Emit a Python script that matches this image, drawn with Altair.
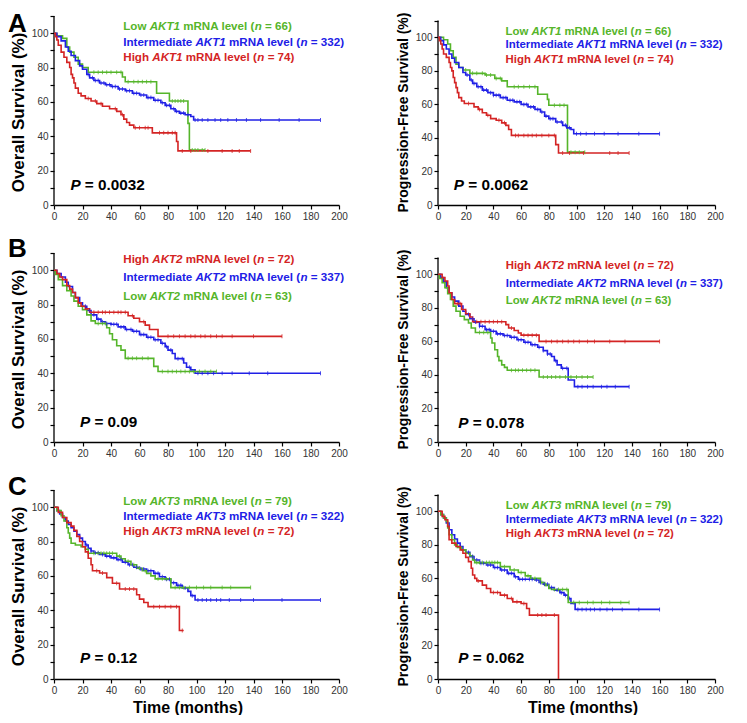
import altair as alt
import pandas as pd

FONT = "Liberation Sans"
GREEN = "#55b52a"
BLUE = "#2020e6"
RED = "#d42424"

# ---------------- data (time in months, survival in %) ----------------
# Panel A - AKT1, overall survival
A_OS_LOW = [(0,100),(2,98.5),(6,97),(9,92),(11,89),(14,86),(17,82),(20,80),(24,77.3),(48,74.5),(50,71.7),(72,65),(81,60.5),(94,47.5),(95,32),(106,32)]
A_OS_LOW_C = [28,31,34,37,40,44,47,52,56,59,62,65,68,83,85,87,89,91,97,99,101,104,106]
A_OS_INT = [(0,100),(2,98),(5,95.5),(8,92),(10,89.5),(12,87),(15,84),(18,81),(20,79),(23,76),(25,74),(28,72.5),(32,71),(36,70),(40,69),(45,67.5),(50,66.5),(55,65),(60,64),(65,62.5),(70,61),(75,59.5),(78,58),(82,56),(85,54.5),(88,53.5),(92,52.5),(96,51.5),(98,49.5),(187,49.5)]
A_OS_INT_C = [24,27,29,31,33,35,37,39,41,43,46,48,51,53,56,58,61,63,66,68,71,73,76,79,81,84,86,89,91,94,99,101,104,108,113,117,122,128,135,145,158,172,187]
A_OS_HIGH = [(0,100),(1,98),(2,96),(3,93),(5,89),(7,86),(9,83),(11,80),(12,76),(13,74),(14,71),(15,68),(17,65),(19,63.5),(22,62),(26,60.5),(30,59),(34,57.5),(39,56),(44,54.5),(47,52.5),(49,50),(51,48),(53,46.5),(56,45),(69,42),(86,37),(87,31.5),(138,31.5)]
A_OS_HIGH_C = [24,29,33,43,48,57,60,64,66,74,77,80,83,85,90,96,108,118,125,130,138]

# Panel A - AKT1, progression-free survival
A_PFS_LOW = [(0,100),(4,98.5),(7,96),(9,92),(11,88),(13,84),(15,82),(18,80.5),(23,78.5),(34,77.5),(41,75.5),(46,74),(50,70.5),(72,66),(79,63),(80,59.5),(93.5,31.5),(106,31.5)]
A_PFS_LOW_C = [20,25,28,32,35,38,42,45,55,58,62,66,70,84,88,91,96,99,102,106]
A_PFS_INT = [(0,100),(2,98),(4,95.5),(6,93),(8,90),(10,87.5),(12,85),(15,82),(18,79),(20,77.5),(23,74.5),(25,72.5),(28,70.5),(32,68.5),(36,67),(40,65.5),(45,64),(50,62.5),(55,61.5),(60,60),(65,58.5),(70,57),(74,55.5),(77,53),(80,51.5),(85,49.5),(90,47.5),(93,46),(96,45),(98,42.5),(160,42.5)]
A_PFS_INT_C = [21,24,26,29,31,33,35,38,40,42,44,47,49,52,54,57,59,62,64,67,69,72,75,78,81,83,86,89,92,95,100,103,107,113,120,130,145,160]
A_PFS_HIGH = [(0,100),(1,98),(2,96),(3,93),(4,90),(6,88),(8,85),(9,82),(10,80),(11,76),(12,73),(13,70),(14,67),(15,64),(17,62),(19,60.5),(26,58.5),(29,57),(32,55),(35,53.5),(38,51.5),(42,50.5),(46,49),(49,47.5),(51,45),(53,41.5),(85,36),(87,31),(138,31)]
A_PFS_HIGH_C = [22,30,36,44,48,56,58,62,65,68,71,75,80,84,90,95,105,124,130,138]

# Panel B - AKT2, overall survival
B_OS_HIGH = [(0,100),(2,98),(4,96),(6,94.5),(9,91),(11,89),(13,87),(15,84),(17,81),(19,79),(22,77.5),(25,75.5),(52,73.5),(56,72),(60,70),(64,68),(67,65.5),(73,61.5),(160,61.5)]
B_OS_HIGH_C = [28,31,34,36,39,42,45,47,50,55,63,80,84,88,92,96,99,103,106,110,114,118,125,140,160]
B_OS_INT = [(0,100),(2,98),(5,96),(8,93),(10,90.5),(13,87),(15,84),(18,81),(20,79),(23,76.5),(26,74),(30,71.5),(33,70),(36,69),(40,68.5),(45,67),(50,65.5),(55,64.5),(60,62.5),(65,61),(70,59.5),(75,57.5),(78,55.5),(80,53.5),(83,51.5),(85,48.5),(89,48.5),(91,46),(93,43.5),(96,42),(99,40),(187,40)]
B_OS_INT_C = [22,25,28,31,34,37,40,42,44,47,49,51,54,56,58,61,63,66,68,71,73,76,79,82,87,90,95,101,104,108,112,118,125,137,150,187]
B_OS_LOW = [(0,100),(1,97.5),(3,94.5),(6,91),(9,88),(12,85),(14,82),(17,79),(20,77),(23,74),(26,70.5),(29,69),(37,66.5),(39,63),(41,59.5),(44,56),(47,53.5),(50,48.7),(70,44),(73,41),(114,41)]
B_OS_LOW_C = [31,34,36,52,55,58,62,66,76,80,83,86,89,92,95,98,102,106,110,114]

# Panel B - AKT2, progression-free survival
B_PFS_HIGH = [(0,100),(3,98),(5,96),(7,93),(8,89),(10,85),(12,82.5),(17,79),(20,76.5),(23,74.5),(25,71.7),(49,70),(51,68),(55,66.5),(58,65),(60,63.7),(73,60),(160,60)]
B_PFS_HIGH_C = [14,16,28,31,34,37,40,43,46,53,62,65,68,71,78,82,86,90,94,98,102,108,113,124,135,160]
B_PFS_INT = [(0,100),(2,98),(4,95.5),(6,92),(8,89),(10,86.5),(12,84),(15,81),(18,78),(20,76),(23,73.5),(26,71.5),(30,69),(34,67),(38,66),(42,64.5),(47,63.5),(52,62.5),(57,61),(62,59.5),(67,58),(72,56.5),(76,54.5),(79,52.5),(82,51),(84,48.5),(86,46),(89,44),(94,37),(98.5,33),(138,33)]
B_PFS_INT_C = [22,25,27,30,32,35,37,40,43,45,48,50,53,55,58,60,63,65,68,70,73,76,79,81,85,90,93,101,104,108,112,118,122,128,138]
B_PFS_LOW = [(0,100),(1,97.5),(3,95),(5,92),(7,88.5),(9,85),(11,81),(13,78),(16,75),(19,73),(22,71),(24,68),(27,65.3),(38,62),(39,59),(41,55),(43,51),(44,48.5),(46,46),(48,44.5),(50,42.8),(73,38.8),(112,38.8)]
B_PFS_LOW_C = [30,33,36,53,56,58,61,64,67,70,76,79,82,85,88,92,96,100,104,108,112]

# Panel C - AKT3, overall survival
C_OS_LOW = [(0,100),(2,98),(5,95),(7,92),(9,88),(10,85),(11,82),(12,79),(15,78),(19,77),(22,75.5),(24,73.2),(44,71.5),(47,70),(50,68.5),(54,66.5),(58,64.5),(62,63),(65,61.5),(68,60),(71,58.3),(82,53.2),(138,53.2)]
C_OS_LOW_C = [28,31,33,35,37,39,41,46,52,56,60,64,73,76,79,85,88,91,95,100,105,110,118,124,138]
C_OS_INT = [(0,100),(2,98),(4,96),(6,94),(8,92),(10,90),(12,88),(14,86),(16,84),(18,82),(20,80),(22,78),(24,76),(26,74.5),(28,73.5),(32,72.5),(36,71.5),(40,70.5),(44,69.5),(48,68),(52,66.5),(56,65),(60,64),(65,63),(70,61.5),(74,59.5),(78,58),(82,56),(86,54.5),(90,53),(94,51),(96,48.5),(99,46),(187,46)]
C_OS_INT_C = [23,26,29,31,34,37,39,42,45,47,50,53,55,58,61,63,66,68,71,73,76,79,81,84,87,89,92,97,101,104,107,110,114,117,123,131,140,160,187]
C_OS_HIGH = [(0,100),(3,97),(6,94),(9,91),(12,89),(14,86.5),(16,83),(18,80),(20,77),(22,74),(24,70.3),(26,66.5),(27,63),(32,61.7),(37,59),(41,55.7),(46,52.4),(58,49),(60,46.5),(63,44.5),(66,42.1),(88,28.2),(91,28.2)]
C_OS_HIGH_C = [30,34,44,50,53,56,70,74,78,82,86,90]

# Panel C - AKT3, progression-free survival
C_PFS_LOW = [(0,100),(2,98),(4,96),(6,94),(7,90),(8,86),(10,83),(12,80),(14,78.5),(17,77),(20,75),(23,73.5),(25,71),(26.5,69.4),(45,67),(52,65),(58,63.5),(63,61.5),(67,60),(74,57.5),(77,56),(80,54),(82,53.4),(94,45.6),(138,45.6)]
C_PFS_LOW_C = [28,30,32,35,37,39,41,43,48,55,60,65,70,75,78,84,87,90,93,98,102,108,112,118,124,132,138]
C_PFS_INT = [(0,100),(2,98),(4,96),(6,93),(8,89),(10,86),(12,83.5),(14,81),(16,79),(18,77),(20,75.5),(23,73),(26,71),(30,69),(35,68),(40,66.5),(45,65),(50,63),(55,61),(58,59.5),(70,59),(73,57.5),(76,56.5),(80,54.5),(84,53),(88,51.5),(91,50),(94,48),(96,45),(99,41.5),(160,41.5)]
C_PFS_INT_C = [22,25,28,31,33,36,38,41,43,46,48,51,53,56,59,61,63,66,68,71,74,77,79,82,86,89,92,95,101,104,107,110,113,117,122,126,133,145,160]
C_PFS_HIGH = [(0,100),(3,97),(5,95),(7,91),(8,83),(10,81),(13,79),(16,77),(18,75),(20,72.5),(22,70),(24,66),(25,62),(26.5,60),(28,58.5),(32,56),(35,54),(38,51.6),(45,50),(50,48),(54,46),(60,45),(64,42),(66,38.1),(87,0)]
C_PFS_HIGH_C = [29,40,43,48,53,57,62,72,75,78,84]

# legend texts
GENES = ["AKT1", "AKT2", "AKT3"]
A_LEGEND = [("Low", 66, GREEN), ("Intermediate", 332, BLUE), ("High", 74, RED)]
B_LEGEND = [("High", 72, RED), ("Intermediate", 337, BLUE), ("Low", 63, GREEN)]
C_LEGEND = [("Low", 79, GREEN), ("Intermediate", 322, BLUE), ("High", 72, RED)]
P_VALUES = ["0.0032", "0.0062", "0.09", "0.078", "0.12", "0.062"]
LETTERS = ["A", "B", "C"]

# ---------------- helpers ----------------
CHAR_W = {' ': 278, '(': 333, ')': 333, '=': 584, '.': 278,
          'A': 722, 'K': 722, 'T': 611, 'R': 722, 'N': 722, 'L': 611, 'I': 278, 'H': 722, 'P': 667,
          'a': 556, 'd': 611, 'e': 556, 'g': 611, 'h': 611, 'i': 278, 'l': 278, 'm': 889,
          'n': 611, 'o': 611, 'r': 389, 't': 333, 'v': 556, 'w': 778}
for _d in "0123456789":
    CHAR_W[_d] = 556


def text_w(s, size):
    return sum(CHAR_W.get(ch, 556) for ch in s) * size / 1000.0


def surv_at(points, c):
    val = points[0][1]
    for t, s in points:
        if t <= c:
            val = s
    return val


def seg_rows(segments, x0, y0, W, color, size):
    rows = []
    cum = 0.0
    for text, ital in segments:
        stripped = text.strip(" ")
        lead = len(text) - len(text.lstrip(" "))
        off = cum + text_w(text[:lead], size)
        rows.append(dict(t=x0 + off * 200.0 / W, s=y0, label=stripped,
                         italic=ital, color=color, size=size))
        cum += text_w(text, size)
    return rows


def panel(series, legend, gene, legend_pos, pval, p_pos, W, H, ymax, ytitle,
          ytitle_size, ytitle_x, ytitle_y, xtitle, xtitle_x, letter, letter_y, leg_size):
    line_rows, cens_rows = [], []
    for name, (pts, cens, color) in enumerate(series):
        for t, s in pts:
            line_rows.append(dict(t=t, s=s, series=str(name), color=color))
        for c in cens:
            cens_rows.append(dict(t=c, s=surv_at(pts, c), color=color))
    lines_df = pd.DataFrame(line_rows)
    cens_df = pd.DataFrame(cens_rows)

    txt = []
    x0, ys = legend_pos
    for (grp, n, color), yy in zip(legend, ys):
        segs = [(grp + " ", False), (gene, True), (" mRNA level (", False),
                ("n", True), (" = %d)" % n, False)]
        txt += seg_rows(segs, x0, yy, W, color, leg_size)
    txt += seg_rows([("P", True), (" = " + pval, False)], p_pos[0], p_pos[1], W, "black", 15.3)
    txt_df = pd.DataFrame(txt)

    xenc = alt.X("t:Q", scale=alt.Scale(domain=[0, 200], nice=False, zero=False),
                 axis=alt.Axis(values=list(range(0, 201, 20)), title=xtitle,
                               labelFlush=False, labelOverlap=False,
                               titleFontSize=16, titleX=xtitle_x, titleY=33,
                               titleAlign="center", titleBaseline="alphabetic"))
    yenc = alt.Y("s:Q", scale=alt.Scale(domain=[0, ymax], nice=False, zero=True),
                 axis=alt.Axis(values=list(range(0, 111, 10)), domain=False,
                               labelExpr="datum.value % 20 == 0 && datum.value <= 100 ? datum.label : ''",
                               labelFlush=False, labelOverlap=False, title=ytitle,
                               titleFontSize=ytitle_size, titleX=ytitle_x, titleY=ytitle_y,
                               titleAngle=270, titleAlign="center", titleBaseline="middle"))
    col = alt.Color("color:N", scale=None)

    rule = alt.Chart(pd.DataFrame({"s": [0], "s2": [110]})).mark_rule(
        color="black", strokeWidth=1.3).encode(x=alt.value(0), y=yenc, y2="s2:Q")
    lines = alt.Chart(lines_df).mark_line(interpolate="step-after", strokeWidth=1.6).encode(
        x=xenc, y=yenc, color=col, detail="series:N")
    ticks = alt.Chart(cens_df).mark_tick(orient="vertical", size=4, thickness=0.9, opacity=0.85).encode(
        x=xenc, y=yenc, color=col)
    t_norm = alt.Chart(txt_df[~txt_df["italic"]]).mark_text(
        font=FONT, fontWeight="bold", align="left", baseline="alphabetic").encode(
        x=xenc, y=yenc, text="label:N", color=col, size=alt.Size("size:Q", scale=None))
    t_ital = alt.Chart(txt_df[txt_df["italic"]]).mark_text(
        font=FONT, fontWeight="bold", fontStyle="italic", align="left", baseline="alphabetic").encode(
        x=xenc, y=yenc, text="label:N", color=col, size=alt.Size("size:Q", scale=None))
    layers = [rule, lines, ticks, t_norm, t_ital]
    if letter:
        let = alt.Chart(pd.DataFrame({"label": [letter]})).mark_text(
            font=FONT, fontWeight="bold", fontSize=26, align="left", baseline="alphabetic",
            color="black").encode(x=alt.value(-46), y=alt.value(letter_y), text="label:N")
        layers.append(let)
    return alt.layer(*layers).properties(width=W, height=H)


WL, WR, H = 285, 277, 189
YMAX_L, YMAX_R = 110, 112.7

rows_spec = [
    (A_LEGEND, GENES[0],
     [(A_OS_LOW, A_OS_LOW_C, GREEN), (A_OS_INT, A_OS_INT_C, BLUE), (A_OS_HIGH, A_OS_HIGH_C, RED)],
     [(A_PFS_LOW, A_PFS_LOW_C, GREEN), (A_PFS_INT, A_PFS_INT_C, BLUE), (A_PFS_HIGH, A_PFS_HIGH_C, RED)],
     (48.6, [101.7, 92.6, 83.9]), (48.8, [101.4, 93.8, 84.5]),
     P_VALUES[0], (11.5, 8.6), P_VALUES[1], (11.4, 9.0), 16),
    (B_LEGEND, GENES[1],
     [(B_OS_INT, B_OS_INT_C, BLUE), (B_OS_LOW, B_OS_LOW_C, GREEN), (B_OS_HIGH, B_OS_HIGH_C, RED)],
     [(B_PFS_INT, B_PFS_INT_C, BLUE), (B_PFS_LOW, B_PFS_LOW_C, GREEN), (B_PFS_HIGH, B_PFS_HIGH_C, RED)],
     (48.6, [104.3, 93.6, 82.9]), (48.9, [103.4, 92.4, 82.5]),
     P_VALUES[2], (18.2, 8.8), P_VALUES[3], (14.7, 8.3), 4.2),
    (C_LEGEND, GENES[2],
     [(C_OS_INT, C_OS_INT_C, BLUE), (C_OS_LOW, C_OS_LOW_C, GREEN), (C_OS_HIGH, C_OS_HIGH_C, RED)],
     [(C_PFS_INT, C_PFS_INT_C, BLUE), (C_PFS_LOW, C_PFS_LOW_C, GREEN), (C_PFS_HIGH, C_PFS_HIGH_C, RED)],
     (48.6, [101.2, 92.4, 84.1]), (48.9, [101.6, 93.3, 84.7]),
     P_VALUES[4], (18.2, 9.1), P_VALUES[5], (14.7, 9.3), 5.2),
]

charts = []
for i, (leg, gene, os_s, pfs_s, lpos_l, lpos_r, p_l, ppos_l, p_r, ppos_r, let_y) in enumerate(rows_spec):
    last = i == len(rows_spec) - 1
    charts.append(panel(os_s, leg, gene, lpos_l, p_l, ppos_l, WL, H, YMAX_L,
                        "Overall Survival (%)", 17, -36, 96,
                        "Time (months)" if last else None, WL / 2 - 9,
                        LETTERS[i], let_y, 11.6))
    charts.append(panel(pfs_s, leg, gene, lpos_r, p_r, ppos_r, WR, H, YMAX_R,
                        "Progression-Free Survival (%)", 14, -35, 96,
                        "Time (months)" if last else None, WR / 2 + 6,
                        None, 0, 11.4))

chart = alt.concat(*charts, columns=2, spacing={"row": 48, "column": 99},
                   bounds="flush").properties(
    padding={"top": 3, "left": 0, "right": 0, "bottom": 0}).configure_axis(
    labelFont=FONT, labelFontSize=10, labelColor="#333333",
    titleFont=FONT, titleFontWeight="bold", titleColor="black",
    domainColor="black", domainWidth=1.3, tickColor="black", tickWidth=1.2,
    tickSize=4, labelPadding=2, grid=False
).configure_view(stroke=None)

chart.save("out.html", embed_options={"renderer": "svg", "actions": False})
